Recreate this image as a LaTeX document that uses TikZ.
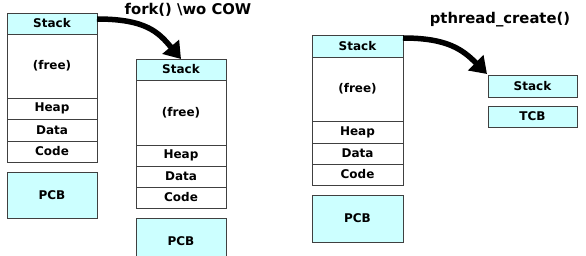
\documentclass[tikz,border=0pt]{standalone}
\usepackage{fontspec}
\setmainfont{DejaVu Sans}
\usetikzlibrary{arrows.meta}
\definecolor{cellfill}{HTML}{CCFFFF}
\definecolor{edge}{HTML}{404040}
\tikzset{
  cell/.style={draw=edge, line width=0.9pt, inner sep=0pt, outer sep=0pt, anchor=north west,
    font=\fontsize{12}{14}\selectfont\bfseries, minimum width=90pt},
  cyan/.style={cell, fill=cellfill},
  blank/.style={cell, fill=white},
  title/.style={font=\fontsize{14.8}{17}\selectfont\bfseries, inner sep=0pt},
  bigarrow/.style={line width=5.5pt, -{Triangle[width=21pt,length=16pt]}}
}
\begin{document}
\begin{tikzpicture}[x=1pt,y=-1pt]
\useasboundingbox (0,0) rectangle (586,256);
\clip (0,0) rectangle (586,256);
% left process
\node[cyan,  minimum height=21pt] (s1) at (7,13) {Stack};
\node[blank, minimum height=64pt] (f1) at (7,34) {(free)};
\node[blank, minimum height=21pt] (h1) at (7,98) {Heap};
\node[blank, minimum height=22pt] (d1) at (7,119) {Data};
\node[blank, minimum height=21pt] (c1) at (7,141) {Code};
\node[cyan,  minimum height=46pt] (p1) at (7,172) {PCB};
% forked process
\node[cyan,  minimum height=21pt] (m1) at (136,59) {Stack};
\node[blank, minimum height=65pt] (mf) at (136,80) {(free)};
\node[blank, minimum height=21pt] (mh) at (136,145) {Heap};
\node[blank, minimum height=21pt] (md) at (136,166) {Data};
\node[blank, minimum height=21pt] (mc) at (136,187) {Code};
\node[cyan,  minimum height=46pt] (mp) at (136,218) {PCB};
% right process
\node[cyan,  minimum width=91pt, minimum height=22pt] (r1) at (312,35) {Stack};
\node[blank, minimum width=91pt, minimum height=64pt] (rf) at (312,57) {(free)};
\node[blank, minimum width=91pt, minimum height=22pt] (rh) at (312,121) {Heap};
\node[blank, minimum width=91pt, minimum height=21pt] (rd) at (312,143) {Data};
\node[blank, minimum width=91pt, minimum height=21pt] (rc) at (312,164) {Code};
\node[cyan,  minimum width=91pt, minimum height=47pt] (rp) at (312,195) {PCB};
% thread
\node[cyan, minimum width=89pt, minimum height=22pt] (t1) at (488,75) {Stack};
\node[cyan, minimum width=89pt, minimum height=21pt] (t2) at (488,106) {TCB};
% titles
\node[title] (fk) at (188,10) {fork() \textbackslash wo COW};
\node[title] (pt) at (500,20) {pthread\_create()};
% arrows
\draw[bigarrow] ([yshift=4.5pt]s1.east) .. controls +(50,0) and +(-22,-26) .. (m1.north);
\draw[bigarrow] ([yshift=8pt]r1.east) .. controls +(45,0) and +(-24,-24) .. ([xshift=-1pt,yshift=1pt]t1.north west);
\end{tikzpicture}
\end{document}
